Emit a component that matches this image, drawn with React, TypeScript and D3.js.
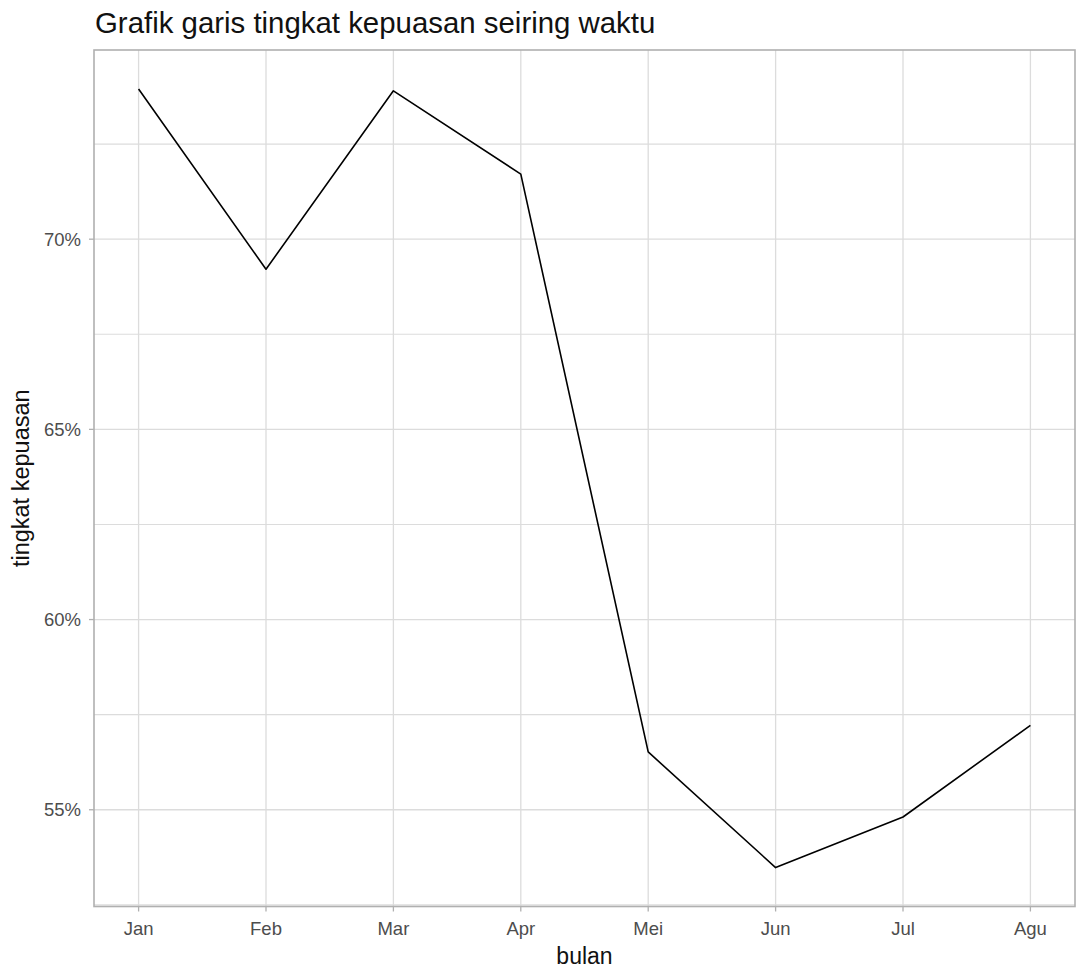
import React from "react";
import * as d3 from "d3";

const months: string[] = ["Jan", "Feb", "Mar", "Apr", "Mei", "Jun", "Jul", "Agu"];
const satisfaction: number[] = [73.95, 69.21, 73.9, 71.71, 56.52, 53.48, 54.81, 57.22];
const yTicks: number[] = [55, 60, 65, 70];
const yMinorTicks: number[] = [52.5, 57.5, 62.5, 67.5, 72.5];

const W = 1088;
const H = 976;
const FONT = "'Liberation Sans', Arial, Helvetica, sans-serif";

export default function App() {
  const left = 94, right = 1075, top = 50, bottom = 906.5;
  const x = d3.scalePoint<string>().domain(months).range([left, right]).padding(0.35);
  const lo = d3.min(satisfaction)!;
  const hi = d3.max(satisfaction)!;
  const pad = (hi - lo) * 0.05;
  const y = d3.scaleLinear().domain([lo - pad, hi + pad]).range([bottom, top]);
  const line = d3
    .line<number>()
    .x((_, i) => x(months[i])!)
    .y((d) => y(d));

  const grid = "#DCDCDC";
  const border = "#B0B0B0";
  const tickCol = "#4D4D4D";

  return (
    <svg width={W} height={H} style={{ position: "absolute", left: 0, top: 0, background: "#fff" }}>
      <rect x={0} y={0} width={W} height={H} fill="#fff" />
      {yMinorTicks.map((t) => (
        <line key={"mn" + t} x1={left} x2={right} y1={y(t)} y2={y(t)} stroke={grid} strokeWidth={1.1} />
      ))}
      {yTicks.map((t) => (
        <line key={"mj" + t} x1={left} x2={right} y1={y(t)} y2={y(t)} stroke={grid} strokeWidth={1.3} />
      ))}
      {months.map((m) => (
        <line key={"vx" + m} x1={x(m)} x2={x(m)} y1={top} y2={bottom} stroke={grid} strokeWidth={1.3} />
      ))}
      <path d={line(satisfaction) || ""} fill="none" stroke="#000" strokeWidth={1.6} strokeLinejoin="round" />
      <rect x={left} y={top} width={right - left} height={bottom - top} fill="none" stroke={border} strokeWidth={1.6} />
      {yTicks.map((t) => (
        <g key={"yt" + t}>
          <line x1={left - 5} x2={left} y1={y(t)} y2={y(t)} stroke={border} strokeWidth={1.3} />
          <text x={left - 13} y={y(t)} dy="0.35em" textAnchor="end" fontFamily={FONT} fontSize={18.5} fill={tickCol}>
            {t}%
          </text>
        </g>
      ))}
      {months.map((m) => (
        <g key={"xt" + m}>
          <line x1={x(m)} x2={x(m)} y1={bottom} y2={bottom + 5} stroke={border} strokeWidth={1.3} />
          <text x={x(m)} y={935} textAnchor="middle" fontFamily={FONT} fontSize={18.5} fill={tickCol}>
            {m}
          </text>
        </g>
      ))}
      <text x={(left + right) / 2} y={964} textAnchor="middle" fontFamily={FONT} fontSize={23} fill="#111">
        bulan
      </text>
      <text
        transform={`translate(29, ${(top + bottom) / 2}) rotate(-90)`}
        textAnchor="middle"
        fontFamily={FONT}
        fontSize={23.5}
        fill="#111"
      >
        tingkat kepuasan
      </text>
      <text x={95} y={33} fontFamily={FONT} fontSize={29.4} fill="#111">
        Grafik garis tingkat kepuasan seiring waktu
      </text>
    </svg>
  );
}
